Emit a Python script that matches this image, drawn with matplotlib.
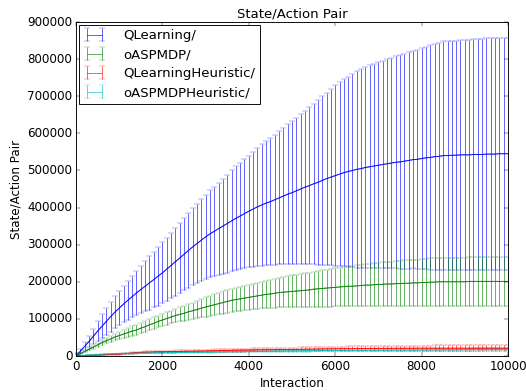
import numpy as np
import matplotlib
matplotlib.use("Agg")
import matplotlib.pyplot as plt

plt.style.use("classic")
plt.rcParams["font.family"] = ["DejaVu Sans"]

interactions = np.arange(0, 10001, 100)

# values in thousands
qlearning_mean = [0, 13, 26, 39, 53, 67, 80, 93, 106, 118, 129, 140, 150, 160, 170, 179, 188, 197, 206, 215,
                  224, 234, 244, 254, 264, 274, 284, 294, 303, 312, 321, 329, 336, 343, 350, 357, 364, 371, 377, 384,
                  390, 396, 402, 407, 412, 416, 421, 426, 431, 436, 440, 445, 450, 455, 459, 464, 468, 473, 478, 482,
                  486, 490, 494, 497, 500, 503, 505, 508, 510, 512, 514, 516, 518, 520, 522, 523, 525, 527, 529, 530,
                  532, 534, 535, 537, 538, 540, 540, 541, 541, 542, 542, 542, 543, 543, 543, 544, 544, 544, 545, 545, 545]
qlearning_std = [0, 5, 11, 16, 21, 27, 32, 36, 40, 43, 46, 49, 52, 55, 59, 64, 68, 72, 75, 79,
                 82, 85, 88, 91, 94, 97, 100, 104, 107, 110, 113, 117, 120, 124, 128, 132, 136, 140, 143, 147,
                 150, 155, 159, 164, 168, 172, 175, 179, 183, 188, 192, 197, 202, 206, 211, 216, 222, 227, 232, 238,
                 243, 248, 252, 256, 261, 265, 268, 270, 273, 276, 278, 280, 282, 284, 286, 288, 290, 292, 293, 295,
                 297, 299, 302, 304, 306, 308, 308, 309, 309, 310, 310, 310, 311, 311, 311, 312, 312, 312, 313, 313, 313]

oaspmdp_mean = [0, 6, 12, 18, 24, 30, 36, 41, 46, 51, 55, 59, 63, 67, 70, 75, 79, 84, 88, 93,
                97, 101, 105, 109, 112, 115, 119, 122, 125, 129, 132, 135, 138, 141, 144, 147, 150, 152, 154, 156,
                158, 160, 162, 164, 166, 167, 169, 171, 172, 173, 174, 175, 176, 177, 178, 180, 181, 182, 183, 184,
                185, 186, 187, 188, 188, 189, 190, 191, 191, 192, 193, 193, 194, 194, 195, 195, 196, 196, 197, 197,
                198, 198, 199, 199, 200, 200, 200, 200, 200, 200, 200, 201, 201, 201, 201, 201, 201, 201, 201, 201, 201]
oaspmdp_std = [0, 1, 2, 3, 4, 5, 6, 7, 8, 9, 10, 11, 12, 13, 14, 14, 15, 15, 16, 16,
               16, 17, 17, 18, 19, 20, 21, 22, 23, 25, 26, 27, 28, 29, 30, 30, 31, 32, 32, 33,
               34, 34, 35, 36, 36, 37, 39, 40, 41, 42, 43, 44, 45, 46, 47, 47, 48, 49, 50, 51,
               51, 52, 53, 54, 54, 55, 56, 56, 57, 58, 58, 59, 59, 60, 61, 61, 62, 62, 63, 63,
               64, 64, 64, 65, 65, 65, 65, 65, 65, 65, 65, 65, 65, 65, 65, 65, 65, 65, 65, 65, 65]

qheur_mean = [0, 0.5, 1, 1.5, 2, 2.5, 3, 3.5, 4, 4.5, 5, 6, 7, 8, 9, 10, 10.3, 10.6, 11, 11.3,
              11.6, 11.8, 12, 12.2, 12.4, 12.6, 12.8, 13, 13.2, 13.4, 13.6, 13.9, 14.2, 14.5, 14.8, 15, 15.3, 15.6, 15.8, 16,
              16.2, 16.4, 16.6, 16.8, 17, 17.1, 17.2, 17.3, 17.4, 17.5, 17.6, 17.8, 18, 18.2, 18.4, 18.6, 18.8, 19, 19.2, 19.4,
              19.5, 19.6, 19.7, 19.8, 19.9, 20, 20.1, 20.2, 20.3, 20.4, 20.5, 20.5, 20.6, 20.6, 20.7, 20.7, 20.8, 20.8, 20.8, 20.9,
              20.9, 20.9, 20.9, 21, 21, 21, 21, 21, 21, 21, 21, 21, 21, 21, 21, 21, 21, 21, 21, 21, 21]
qheur_std = [0, 0.1, 0.2, 0.3, 0.4, 0.5, 0.6, 0.7, 0.8, 0.9, 1, 1.2, 1.4, 1.6, 1.8, 2, 2.1, 2.2, 2.3, 2.4,
             2.5, 2.6, 2.7, 2.8, 2.9, 3, 3.1, 3.2, 3.3, 3.4, 3.5, 3.5, 3.6, 3.6, 3.7, 3.7, 3.8, 3.8, 3.9, 3.9,
             4, 4.1, 4.2, 4.3, 4.4, 4.5, 4.6, 4.7, 4.8, 4.9, 5, 5.1, 5.1, 5.2, 5.2, 5.3, 5.3, 5.4, 5.4, 5.5,
             5.5, 5.6, 5.7, 5.8, 5.9, 6, 6.1, 6.2, 6.3, 6.4, 6.5, 6.6, 6.6, 6.7, 6.7, 6.8, 6.8, 6.9, 6.9, 7,
             7, 7.1, 7.2, 7.3, 7.4, 7.5, 7.6, 7.7, 7.8, 7.9, 8, 8, 8, 8, 8, 8, 8, 8, 8, 8, 8]

oheur_mean = [0, 0.8, 1.6, 2.4, 3.2, 4, 4.6, 5.2, 5.6, 6, 6.3, 6.6, 6.9, 7.2, 7.5, 7.8, 8, 8.3, 8.6, 8.8,
              9, 9.2, 9.3, 9.5, 9.6, 9.8, 9.9, 10.1, 10.2, 10.4, 10.5, 10.7, 10.8, 11, 11.1, 11.3, 11.4, 11.6, 11.7, 11.9,
              12, 12.2, 12.3, 12.5, 12.6, 12.8, 12.9, 13.1, 13.2, 13.4, 13.5, 13.7, 13.8, 14, 14.1, 14.3, 14.4, 14.6, 14.7, 14.9,
              15, 15.1, 15.2, 15.3, 15.4, 15.5, 15.6, 15.6, 15.7, 15.7, 15.8, 15.8, 15.9, 15.9, 16, 16, 16.1, 16.1, 16.2, 16.2,
              16.3, 16.4, 16.5, 16.6, 16.7, 16.8, 16.9, 17, 17.1, 17.2, 17.3, 17.4, 17.5, 17.6, 17.7, 17.8, 17.8, 17.9, 17.9, 18, 18]
oheur_std = [0, 0.1, 0.2, 0.3, 0.4, 0.5, 0.6, 0.6, 0.7, 0.7, 0.8, 0.8, 0.9, 0.9, 1, 1, 1, 1.1, 1.1, 1.1,
             1.2, 1.2, 1.2, 1.2, 1.3, 1.3, 1.3, 1.3, 1.4, 1.4, 1.4, 1.4, 1.5, 1.5, 1.5, 1.5, 1.6, 1.6, 1.6, 1.6,
             1.7, 1.7, 1.7, 1.7, 1.8, 1.8, 1.8, 1.8, 1.9, 1.9, 1.9, 1.9, 2, 2, 2, 2, 2, 2.1, 2.1, 2.1,
             2.1, 2.1, 2.2, 2.2, 2.2, 2.2, 2.2, 2.3, 2.3, 2.3, 2.3, 2.3, 2.4, 2.4, 2.4, 2.4, 2.4, 2.5, 2.5, 2.5,
             2.5, 2.5, 2.6, 2.6, 2.6, 2.6, 2.6, 2.7, 2.7, 2.7, 2.7, 2.7, 2.8, 2.8, 2.8, 2.8, 2.8, 2.9, 2.9, 2.9, 3]

series = [
    ("QLearning/", qlearning_mean, qlearning_std, "b"),
    ("oASPMDP/", oaspmdp_mean, oaspmdp_std, "g"),
    ("QLearningHeuristic/", qheur_mean, qheur_std, "r"),
    ("oASPMDPHeuristic/", oheur_mean, oheur_std, "c"),
]

W, H, DPI = 526, 391, 65.75
fig = plt.figure(figsize=(W / DPI, H / DPI), dpi=DPI, facecolor="white")
ax = fig.add_axes([76 / W, 1 - 356 / H, (508 - 76) / W, (356 - 22) / H])

for label, m, s, c in series:
    m = np.asarray(m) * 1000.0
    s = np.asarray(s) * 1000.0
    ax.errorbar(interactions, m, yerr=s, color=c, alpha=0.65, capsize=3, lw=1, label=label)
for label, m, s, c in series:
    ax.plot(interactions, np.asarray(m) * 1000.0, color=c, lw=1, alpha=0.85)

ax.set_xlim(0, 10000)
ax.set_ylim(0, 900000)
ax.set_xticks(np.arange(0, 10001, 2000))
ax.set_yticks(np.arange(0, 900001, 100000))
ax.ticklabel_format(useOffset=False, style="plain")
ax.set_title("State/Action Pair", fontsize=14.5)
ax.set_xlabel("Interaction", fontsize=13)
ax.set_ylabel("State/Action Pair", fontsize=13)
ax.tick_params(labelsize=13)
leg = ax.legend(loc="upper left", numpoints=2, fontsize=14.5, borderaxespad=0.2,
                borderpad=0.35, labelspacing=0.45, handlelength=1.7, handletextpad=1.3)
leg.get_frame().set_edgecolor("black")

fig.savefig("out.png", dpi=DPI, facecolor="white")
